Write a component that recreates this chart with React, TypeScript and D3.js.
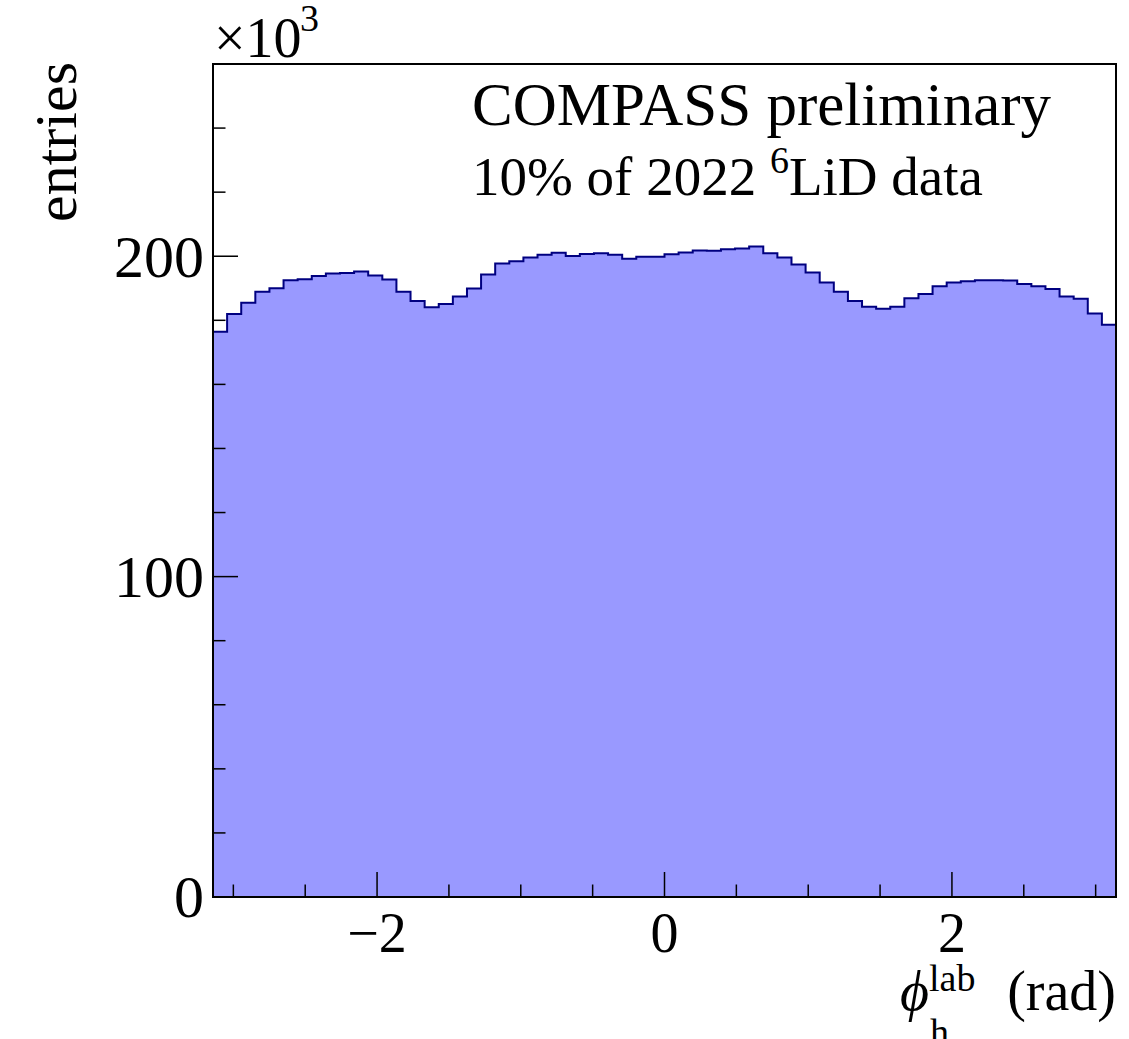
import React from "react";
import * as d3 from "d3";

const counts: number[] = [
  176.4, 182.0, 185.5, 188.9, 190.0, 192.5, 192.8, 193.8, 194.6, 194.8, 195.2, 194.0, 192.7, 188.9, 186.0, 184.1,
  185.1, 187.4, 189.9, 194.3, 197.7, 198.4, 199.6, 200.5, 201.1, 200.1, 200.7, 200.9, 200.5, 199.2, 199.8, 199.8,
  200.6, 201.2, 201.8, 201.7, 202.2, 202.4, 203.0, 200.9, 199.6, 197.4, 194.9, 191.8, 188.9, 186.0, 184.2, 183.6,
  184.2, 186.9, 188.2, 190.6, 191.8, 192.2, 192.5, 192.5, 192.4, 191.3, 190.6, 189.8, 187.4, 186.7, 182.1, 178.6,
];
const xMajorTicks: number[] = [-2, 0, 2];
const xMinorTicks: number[] = [-3, -2.5, -1.5, -1, -0.5, 0.5, 1, 1.5, 2.5, 3];
const yMajorTicks: number[] = [0, 100, 200];
const yMinorTicks: number[] = [20, 40, 60, 80, 120, 140, 160, 180, 220, 240];
const xRange: [number, number] = [-Math.PI, Math.PI];
const yRange: [number, number] = [0, 260];

const W = 1129;
const H = 1039;
const L = 213;
const R = 1116;
const T = 64;
const B = 897;
const FONT = "'Liberation Serif', 'Times New Roman', serif";

export default function App() {
  const x = d3.scaleLinear().domain(xRange).range([L, R]);
  const y = d3.scaleLinear().domain(yRange).range([B, T]);
  const n = counts.length;
  const bw = (xRange[1] - xRange[0]) / n;
  const pts: [number, number][] = [];
  counts.forEach((c, i) => {
    const x0 = xRange[0] + i * bw;
    pts.push([x0, c]);
    pts.push([x0 + bw, c]);
  });
  const line = d3.line<[number, number]>().x((d) => x(d[0])).y((d) => y(d[1]));
  const area = d3
    .area<[number, number]>()
    .x((d) => x(d[0]))
    .y0(y(0))
    .y1((d) => y(d[1]));
  const outline: [number, number][] = [[xRange[0], 0], ...pts, [xRange[1], 0]];
  const major = 25;
  const minor = 12.5;
  return (
    <svg width={W} height={H} style={{ position: "absolute", left: 0, top: 0, background: "#fff" }} fontFamily={FONT}>
      <rect x={0} y={0} width={W} height={H} fill="#fff" />
      <path d={area(pts) || ""} fill="#9999ff" stroke="none" />
      <path d={line(outline) || ""} fill="none" stroke="#000080" strokeWidth={2} />
      {xMajorTicks.map((t) => (
        <line key={"xM" + t} x1={x(t)} x2={x(t)} y1={B} y2={B - major} stroke="#000" strokeWidth={1.5} />
      ))}
      {xMinorTicks.map((t) => (
        <line key={"xm" + t} x1={x(t)} x2={x(t)} y1={B} y2={B - minor} stroke="#000" strokeWidth={1.5} />
      ))}
      {yMajorTicks.map((t) => (
        <line key={"yM" + t} x1={L} x2={L + major} y1={y(t)} y2={y(t)} stroke="#000" strokeWidth={1.5} />
      ))}
      {yMinorTicks.map((t) => (
        <line key={"ym" + t} x1={L} x2={L + minor} y1={y(t)} y2={y(t)} stroke="#000" strokeWidth={1.5} />
      ))}
      <rect x={L} y={T} width={R - L} height={B - T} fill="none" stroke="#000" strokeWidth={2} />
      {xMajorTicks.map((t) => (
        <text key={"xl" + t} x={x(t)} y={952} textAnchor="middle" fontSize={56} fill="#000">
          {t < 0 ? "\u2212" + Math.abs(t) : String(t)}
        </text>
      ))}
      {yMajorTicks.map((t) => (
        <text key={"yl" + t} x={204} y={y(t)} dy="0.34em" textAnchor="end" fontSize={60} fill="#000">
          {String(t)}
        </text>
      ))}
      <text x={214} y={57} fontSize={56} fill="#000">
        ×10
      </text>
      <text x={300} y={31} fontSize={38} fill="#000">
        3
      </text>
      <text transform="translate(76,62) rotate(-90)" textAnchor="end" fontSize={60} fill="#000">
        entries
      </text>
      <text x={472} y={125} fontSize={61} fill="#000">
        COMPASS preliminary
      </text>
      <text x={472} y={195} fontSize={55} fill="#000">
        10% of 2022 <tspan dy={-22} fontSize={38}>6</tspan>
        <tspan dy={22}>LiD data</tspan>
      </text>
      <text x={1116} y={1010} textAnchor="end" fontSize={56} fill="#000">
        (rad)
      </text>
      <text x={900} y={1010} fontSize={56} fontStyle="italic" fill="#000">
        ϕ
      </text>
      <text x={929} y={991} fontSize={38} fill="#000">
        lab
      </text>
      <text x={930} y={1045} fontSize={38} fill="#000">
        h
      </text>
    </svg>
  );
}
